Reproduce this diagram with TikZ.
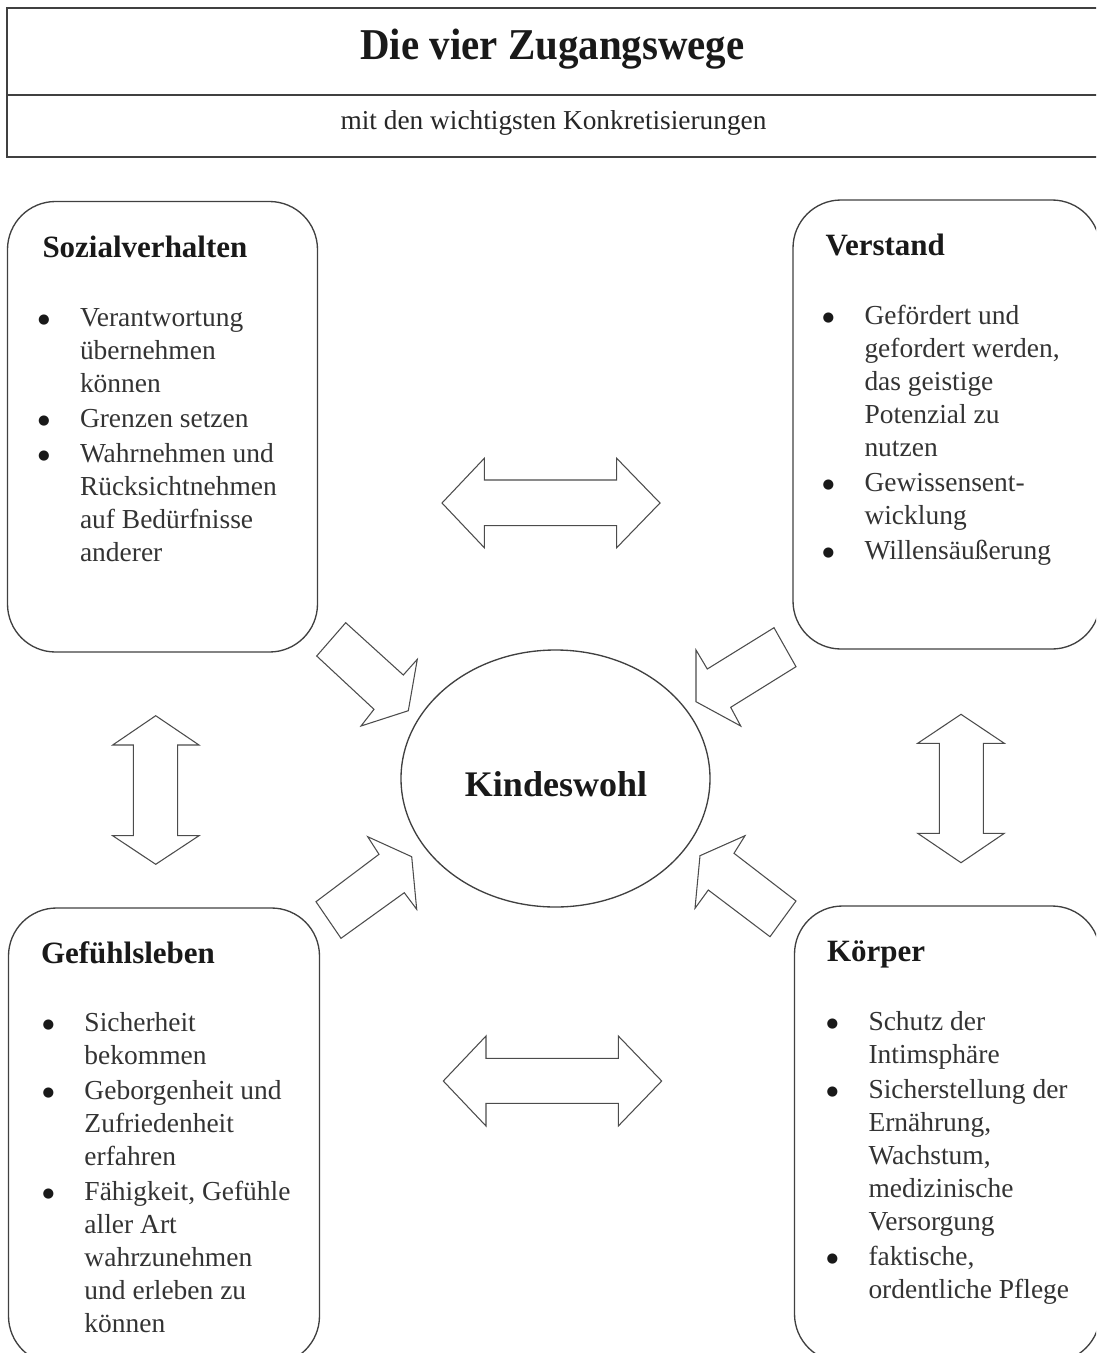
\documentclass[tikz,border=0pt]{standalone}
\usepackage{graphicx}
\usepackage{fontspec}
\setmainfont{Liberation Serif}
\newfontfamily\punktfont{DejaVu Sans}

\tikzset{every picture/.style={line width=0.75pt},
  titleline/.style={draw=black!75, line width=1.2pt},
  boxline/.style={draw=black!75, line width=1pt, rounded corners=36pt},
  ringline/.style={draw=black!75, line width=1pt},
  arrowline/.style={draw=black!70, line width=0.8pt, line join=miter},
  headtext/.style={anchor=base west, inner sep=0pt, text=black!90, font=\fontsize{23.25}{28}\selectfont\bfseries},
  listtext/.style={anchor=base west, inner sep=0pt, text=black!80, font=\fontsize{20.6}{24.75}\selectfont},
}
\newcommand{\lpunkt}{\raisebox{2.2pt}{\textcolor{black!90}{\punktfont\fontsize{10}{12}\selectfont ●}}}

\begin{document}
\begin{tikzpicture}[x=0.75pt,y=0.75pt,yscale=-1,xscale=1]
\useasboundingbox (0,0) rectangle (1096,1353);
\clip (0,0) rectangle (1096,1353);

%Shape: Rectangle [title frame]
\draw [titleline] (7,8) rectangle (1104,157) ;
\draw [titleline] (7,95) -- (1104,95) ;

%Shape: Rounded Rect [Sozialverhalten]
\draw [boxline] (7.5,201.5) rectangle (317.5,652) ;
%Shape: Rounded Rect [Verstand]
\draw [boxline] (793,200) rectangle (1100,649) ;
%Shape: Rounded Rect [Gefuehlsleben]
\draw [boxline] (8.5,908) rectangle (319.5,1364) ;
%Shape: Rounded Rect [Koerper]
\draw [boxline] (794.5,906) rectangle (1100,1362) ;

%Shape: Ellipse [Kindeswohl]
\draw [ringline] (555.5,778.5) ellipse [x radius=154.5, y radius=128.5] ;

%Shape: Left-Right Arrow [top]
\draw [arrowline] (442,503) -- (484.3,458.3) -- (484.3,480) -- (616.7,480) -- (616.7,458.3) -- (660,503) -- (616.7,547.7) -- (616.7,525.7) -- (484.3,525.7) -- (484.3,547.7) -- cycle ;
%Shape: Left-Right Arrow [bottom]
\draw [arrowline] (443.3,1081) -- (486,1036) -- (486,1058.3) -- (618.3,1058.3) -- (618.3,1036) -- (661.7,1081) -- (618.3,1126) -- (618.3,1103.3) -- (486,1103.3) -- (486,1126) -- cycle ;
%Shape: Up-Down Arrow [left]
\draw [arrowline] (155.7,715.7) -- (199,745) -- (177.7,745) -- (177.7,835.7) -- (199,835.7) -- (155.7,864.3) -- (112.7,835.7) -- (133.3,835.7) -- (133.3,745) -- (112.7,745) -- cycle ;
%Shape: Up-Down Arrow [right]
\draw [arrowline] (961,714.3) -- (1004.3,743.3) -- (983.3,743.3) -- (983.3,833.3) -- (1004.3,833.3) -- (961,862.7) -- (917.7,833.3) -- (939.3,833.3) -- (939.3,743.3) -- (917.7,743.3) -- cycle ;

%Shape: Right Arrow [top left, rotated]
\draw [arrowline] (316.7,656) -- (345.7,622.7) -- (403.3,675) -- (417.3,659.3) -- (408.3,710.7) -- (361,726) -- (374,709.3) -- cycle ;
%Shape: Right Arrow [top right, rotated]
\draw [arrowline] (774,627.7) -- (796,666.7) -- (730.7,707.3) -- (740.7,726) -- (696,701.7) -- (696,650) -- (707.3,669) -- cycle ;
%Shape: Right Arrow [bottom left, rotated]
\draw [arrowline] (316,901.7) -- (379,854.3) -- (367.7,836.7) -- (411.7,856.7) -- (416.7,909.3) -- (404.3,892.7) -- (341,938.3) -- cycle ;
%Shape: Right Arrow [bottom right, rotated]
\draw [arrowline] (796,901) -- (734,853.3) -- (745,835.7) -- (700,855.7) -- (695,908.3) -- (708.3,890) -- (770,936.7) -- cycle ;

% Text Node
\node (titel) at (552.5,59) [anchor=base, inner sep=0pt, text=black!90] {\scalebox{0.93}[1]{\fontsize{33}{40}\selectfont\bfseries Die vier Zugangswege}};
% Text Node
\node (untertitel) at (553.5,129) [anchor=base, inner sep=0pt, text=black!85, font=\fontsize{20.5}{24}\selectfont] {mit den wichtigsten Konkretisierungen};
% Text Node
\node (wohl) at (556,796) [anchor=base, inner sep=0pt, text=black!90, font=\fontsize{27}{32}\selectfont\bfseries] {Kindeswohl};

% Text Node
\node (sozKopf) at (42,257.5) [headtext] {Sozialverhalten};
% Text Node
\node (sozListe) at (37.5,326.5) [listtext] {\begin{tabular}[t]{@{}p{31.5pt}@{}l@{}}
\lpunkt & Verantwortung\\ & übernehmen\\ & können\\[1.5pt]
\lpunkt & Grenzen setzen\\[1.5pt]
\lpunkt & Wahrnehmen und\\ & Rücksichtnehmen\\ & auf Bedürfnisse\\ & anderer
\end{tabular}};

% Text Node
\node (verKopf) at (825,255) [headtext] {Verstand};
% Text Node
\node (verListe) at (822,324) [listtext] {\begin{tabular}[t]{@{}p{31.5pt}@{}l@{}}
\lpunkt & Gefördert und\\ & gefordert werden,\\ & das geistige\\ & Potenzial zu\\ & nutzen\\[1.5pt]
\lpunkt & Gewissensent-\\ & wicklung\\[1.5pt]
\lpunkt & Willensäußerung
\end{tabular}};

% Text Node
\node (gefKopf) at (40.5,963) [headtext] {Gefühlsleben};
% Text Node
\node (gefListe) at (42,1031.5) [listtext] {\begin{tabular}[t]{@{}p{31.5pt}@{}l@{}}
\lpunkt & Sicherheit\\ & bekommen\\[1.5pt]
\lpunkt & Geborgenheit und\\ & Zufriedenheit\\ & erfahren\\[1.5pt]
\lpunkt & Fähigkeit, Gefühle\\ & aller Art\\ & wahrzunehmen\\ & und erleben zu\\ & können
\end{tabular}};

% Text Node
\node (koeKopf) at (826.5,961.5) [headtext] {Körper};
% Text Node
\node (koeListe) at (826,1030) [listtext] {\begin{tabular}[t]{@{}p{31.5pt}@{}l@{}}
\lpunkt & Schutz der\\ & Intimsphäre\\[1.5pt]
\lpunkt & Sicherstellung der\\ & Ernährung,\\ & Wachstum,\\ & medizinische\\ & Versorgung\\[1.5pt]
\lpunkt & faktische,\\ & ordentliche Pflege
\end{tabular}};

\end{tikzpicture}
\end{document}
